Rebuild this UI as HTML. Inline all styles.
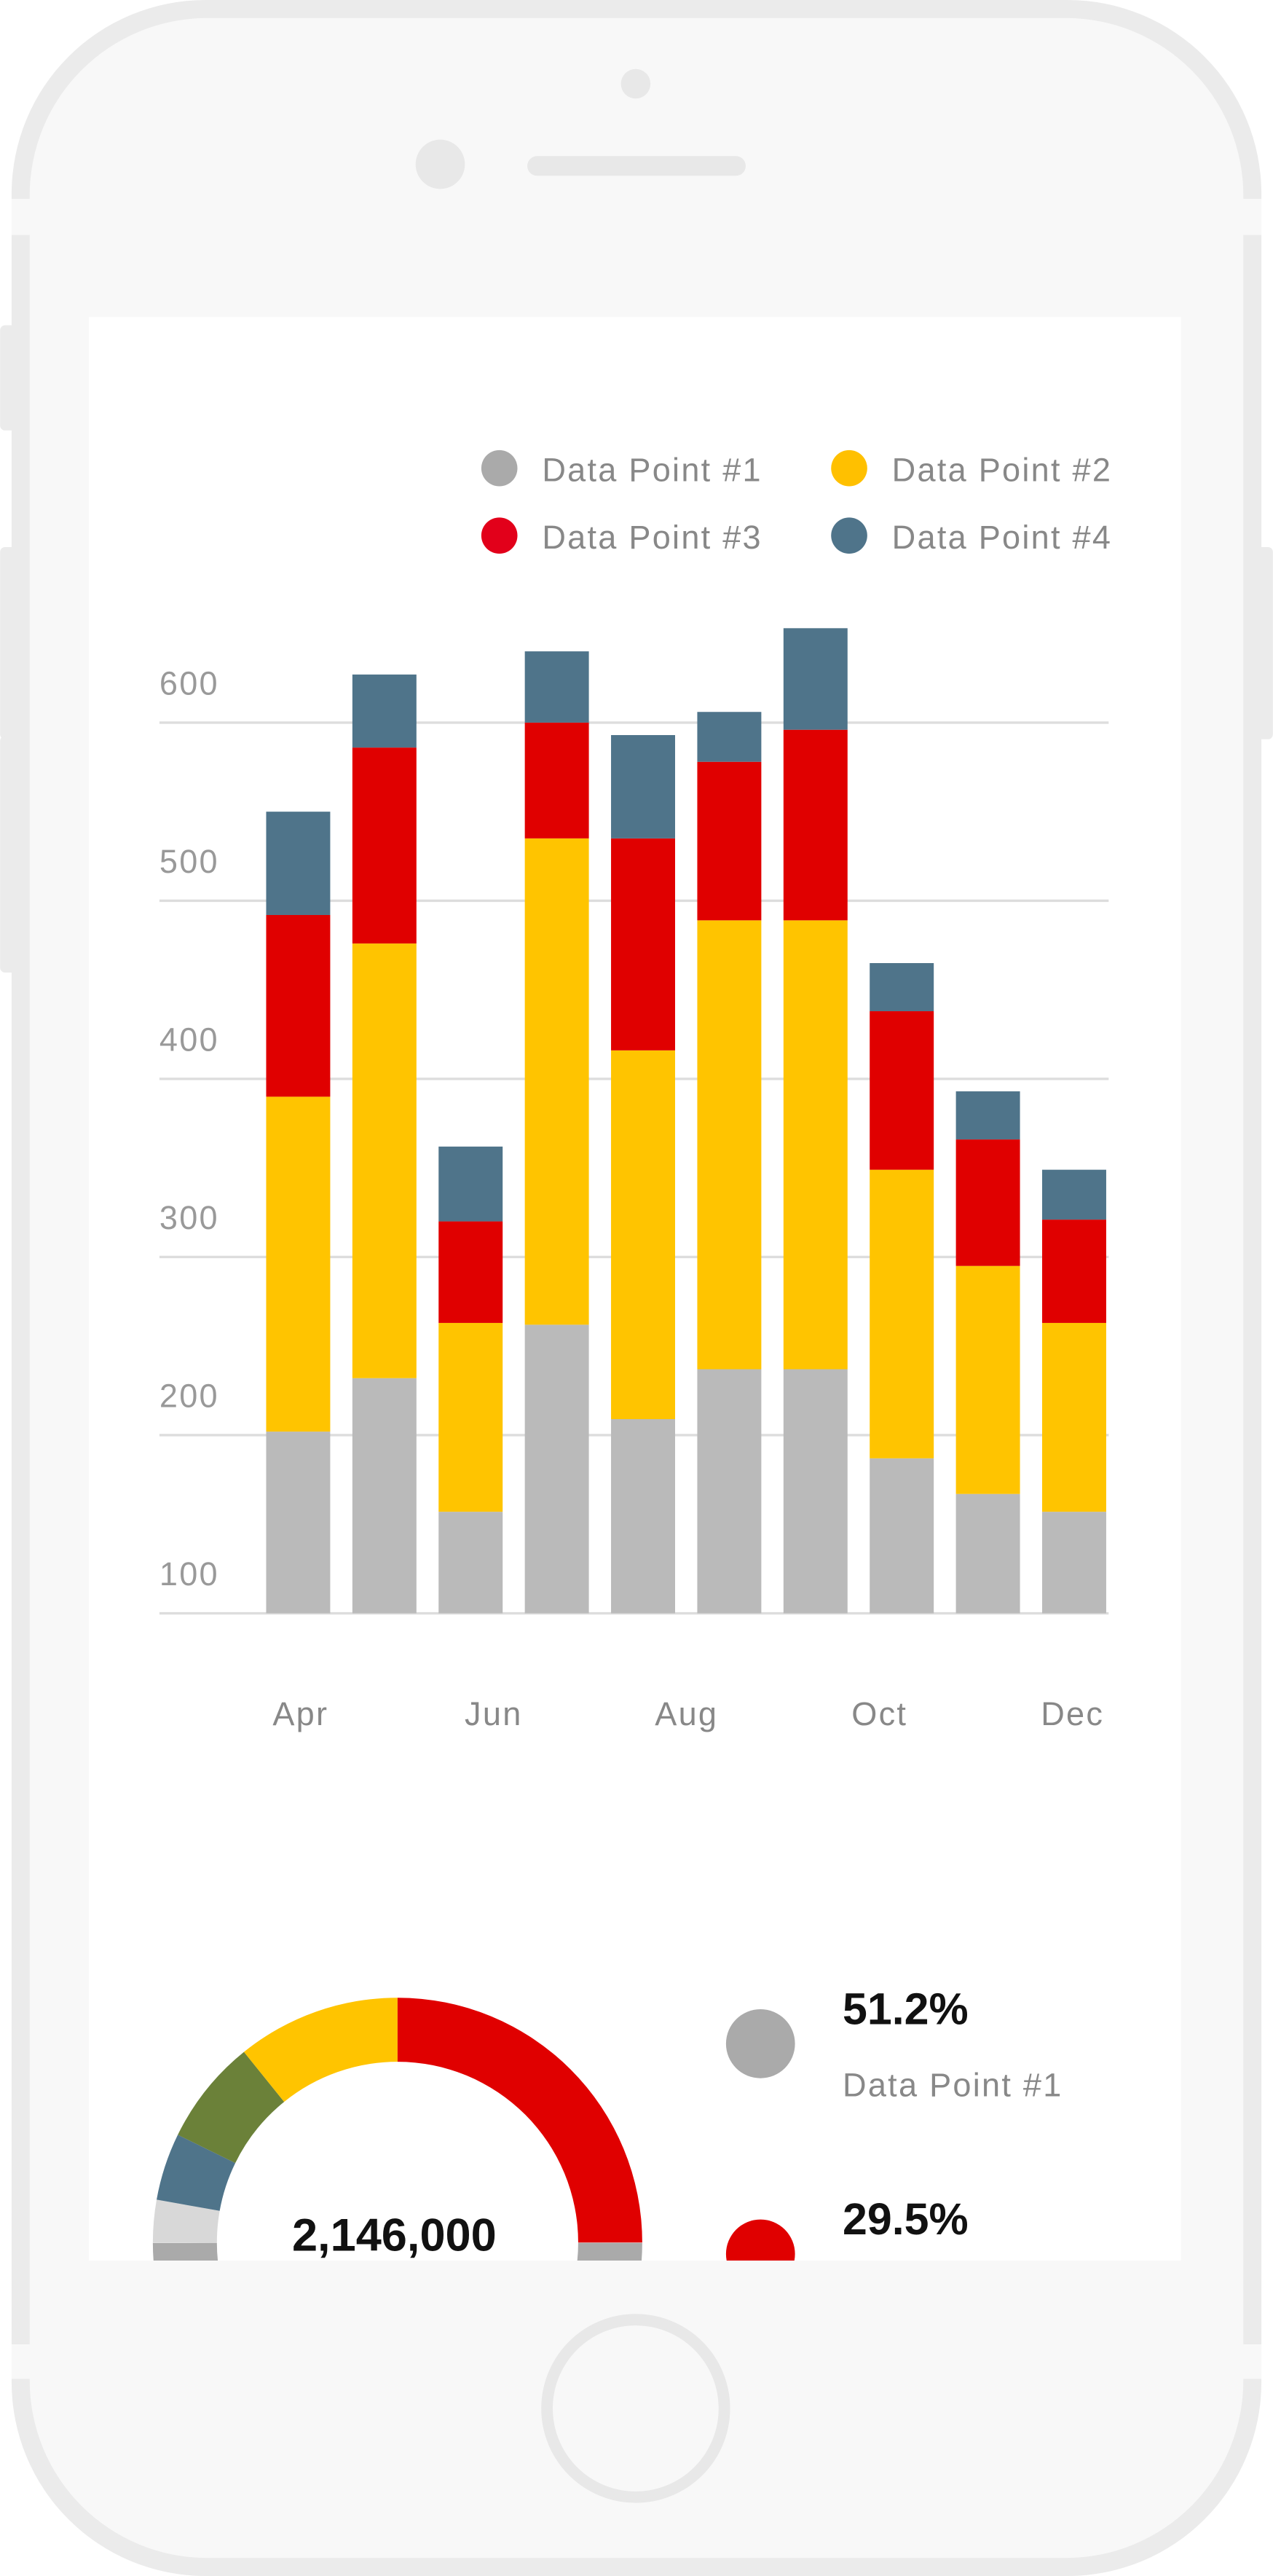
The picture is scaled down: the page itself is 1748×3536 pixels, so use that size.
<!DOCTYPE html>
<html><head><meta charset="utf-8"><style>
html,body{margin:0;padding:0;background:#fff;}
svg{display:block;font-family:"Liberation Sans",sans-serif;}
</style></head><body>
<svg id="root" width="1748" height="3536" viewBox="0 0 775 1568" xmlns="http://www.w3.org/2000/svg">
<defs><clipPath id="screenclip"><rect x="54" y="193" width="665" height="1183"/></clipPath></defs>
<rect x="0" y="198" width="10" height="64" rx="3" fill="#ebebeb"/>
<rect x="0" y="333" width="10" height="117" rx="3" fill="#ebebeb"/>
<rect x="0" y="448" width="10" height="144" rx="3" fill="#ebebeb"/>
<rect x="765" y="333" width="10" height="117" rx="3" fill="#ebebeb"/>
<rect x="7" y="0" width="761" height="1568" rx="118" fill="#ebebeb"/>
<rect x="18" y="11" width="739" height="1546" rx="108" fill="#f8f8f8"/>
<rect x="7" y="121" width="761" height="22" fill="#f8f8f8"/>
<rect x="7" y="1427" width="761" height="21" fill="#f8f8f8"/>
<circle cx="387" cy="51" r="9" fill="#e8e8e8"/>
<circle cx="268" cy="100" r="15" fill="#e8e8e8"/>
<rect x="321" y="95" width="133" height="12" rx="6" fill="#e8e8e8"/>
<circle cx="387" cy="1466" r="54" fill="none" stroke="#e8e8e8" stroke-width="7"/>
<rect x="54" y="193" width="665" height="1183" fill="#fff"/>
<g id="chart"></g>
<g id="donut" clip-path="url(#screenclip)"></g>
</svg>
<script>
const categories=["Apr","May","Jun","Jul","Aug","Sep","Oct","Nov","Dec","Jan"];
const dp1=[202,232,157,262,209,237,237,187,167,157];
const dp2=[188,244,106,273,207,252,252,162,128,106];
const dp3=[102,110,57,65,119,89,107,89,71,58];
const dp4=[58,41,42,40,58,28,57,27,27,28];
const yTicks=[100,200,300,400,500,600];
const xLabels=["Apr","Jun","Aug","Oct","Dec"];
const seriesNames=["Data Point #1","Data Point #2","Data Point #3","Data Point #4"];
const donutVals=[5.6,8.9,13.9,21.6,50];
const donutTotal="2,146,000";
const NS="http://www.w3.org/2000/svg";
function mk(t,a,p){const e=document.createElementNS(NS,t);for(const k in a)e.setAttribute(k,a[k]);p.appendChild(e);return e;}
const g=document.getElementById('chart');
const y=v=>982-(v-100)*1.0843;
const x=i=>162+i*52.5;
const bw=39;
const colors=["#bababa","#ffc400","#e00000","#4f748a"];
const legendColors=["#aaaaaa","#ffc000","#e2001a","#4f748a"];
yTicks.forEach(t=>{
 const l=mk('line',{x1:97,x2:675,y1:y(t),y2:y(t),stroke:"#dddddd","stroke-width":1.5},g);
 
 
 const tx=mk('text',{x:97,y:y(t)-17,"font-size":20,fill:"#999","letter-spacing":1},g);
 tx.textContent=t;
 
 
});
const series=[dp1,dp2,dp3,dp4];
categories.forEach((c,i)=>{
 let base=100,top=0;
 series.forEach((s,k)=>{
  top=(k===0)?s[i]:top+s[i];
  const r=mk('rect',{x:x(i),width:bw,y:y(top),height:y(base)-y(top),fill:colors[k]},g);
  
  
  base=top;
 });
});
xLabels.forEach((m,i)=>{
 const t=mk('text',{x:183+i*117.5,y:1050,"font-size":20,fill:"#888","text-anchor":"middle","letter-spacing":1},g);
 t.textContent=m;
 
 
});
seriesNames.forEach((n,k)=>{
 const cx=304+(k%2)*213, cy=285+Math.floor(k/2)*41;
 const lg=mk('g',{},g);
 
 
 mk('circle',{cx:cx,cy:cy,r:11,fill:legendColors[k]},lg);
 const t=mk('text',{x:cx+26,y:cy+8,"font-size":20,fill:"#888","letter-spacing":1},lg);
 t.textContent=n;
});
const d=document.getElementById('donut');
const cx=242,cy=1365,R=149,r0=110;
function arc(a0,a1,col,name){
 const rad=a=>a*Math.PI/180;
 const p=(rr,a)=>[cx+rr*Math.cos(rad(a)),cy-rr*Math.sin(rad(a))];
 const [x0,y0]=p(R,a0),[x1,y1]=p(R,a1),[x2,y2]=p(r0,a1),[x3,y3]=p(r0,a0);
 const large=Math.abs(a0-a1)>180?1:0;
 const e=mk('path',{d:`M${x0} ${y0} A${R} ${R} 0 ${large} 1 ${x1} ${y1} L${x2} ${y2} A${r0} ${r0} 0 ${large} 0 ${x3} ${y3}Z`,fill:col},d);
 
 
}
arc(359.9,180.1,"#aaaaaa","donut-segment-dp1");
const dcols=["#d8d8d8","#4f748a","#6b8139","#ffc400","#e00000"];
let a=180;
donutVals.forEach((v,i)=>{const a1=a-v*1.8;arc(a,a1,dcols[i],'donut-segment-'+(i+2));a=a1;});
const ct=mk('text',{x:240,y:1370,"font-size":28,"font-weight":"bold",fill:"#111","text-anchor":"middle"},d);
ct.textContent=donutTotal;


const dl=[["51.2%","Data Point #1","#aaaaaa",1244],["29.5%","Data Point #3","#e00000",1372]];
dl.forEach((e,i)=>{
 const lg=mk('g',{},d);
 
 
 mk('circle',{cx:463,cy:e[3],r:21,fill:e[2]},lg);
 const p=mk('text',{x:513,y:e[3]-12,"font-size":27,"font-weight":"bold",fill:"#111"},lg);p.textContent=e[0];
 const n=mk('text',{x:513,y:e[3]+32,"font-size":20,fill:"#888","letter-spacing":1},lg);n.textContent=e[1];
});
</script>
</body></html>
